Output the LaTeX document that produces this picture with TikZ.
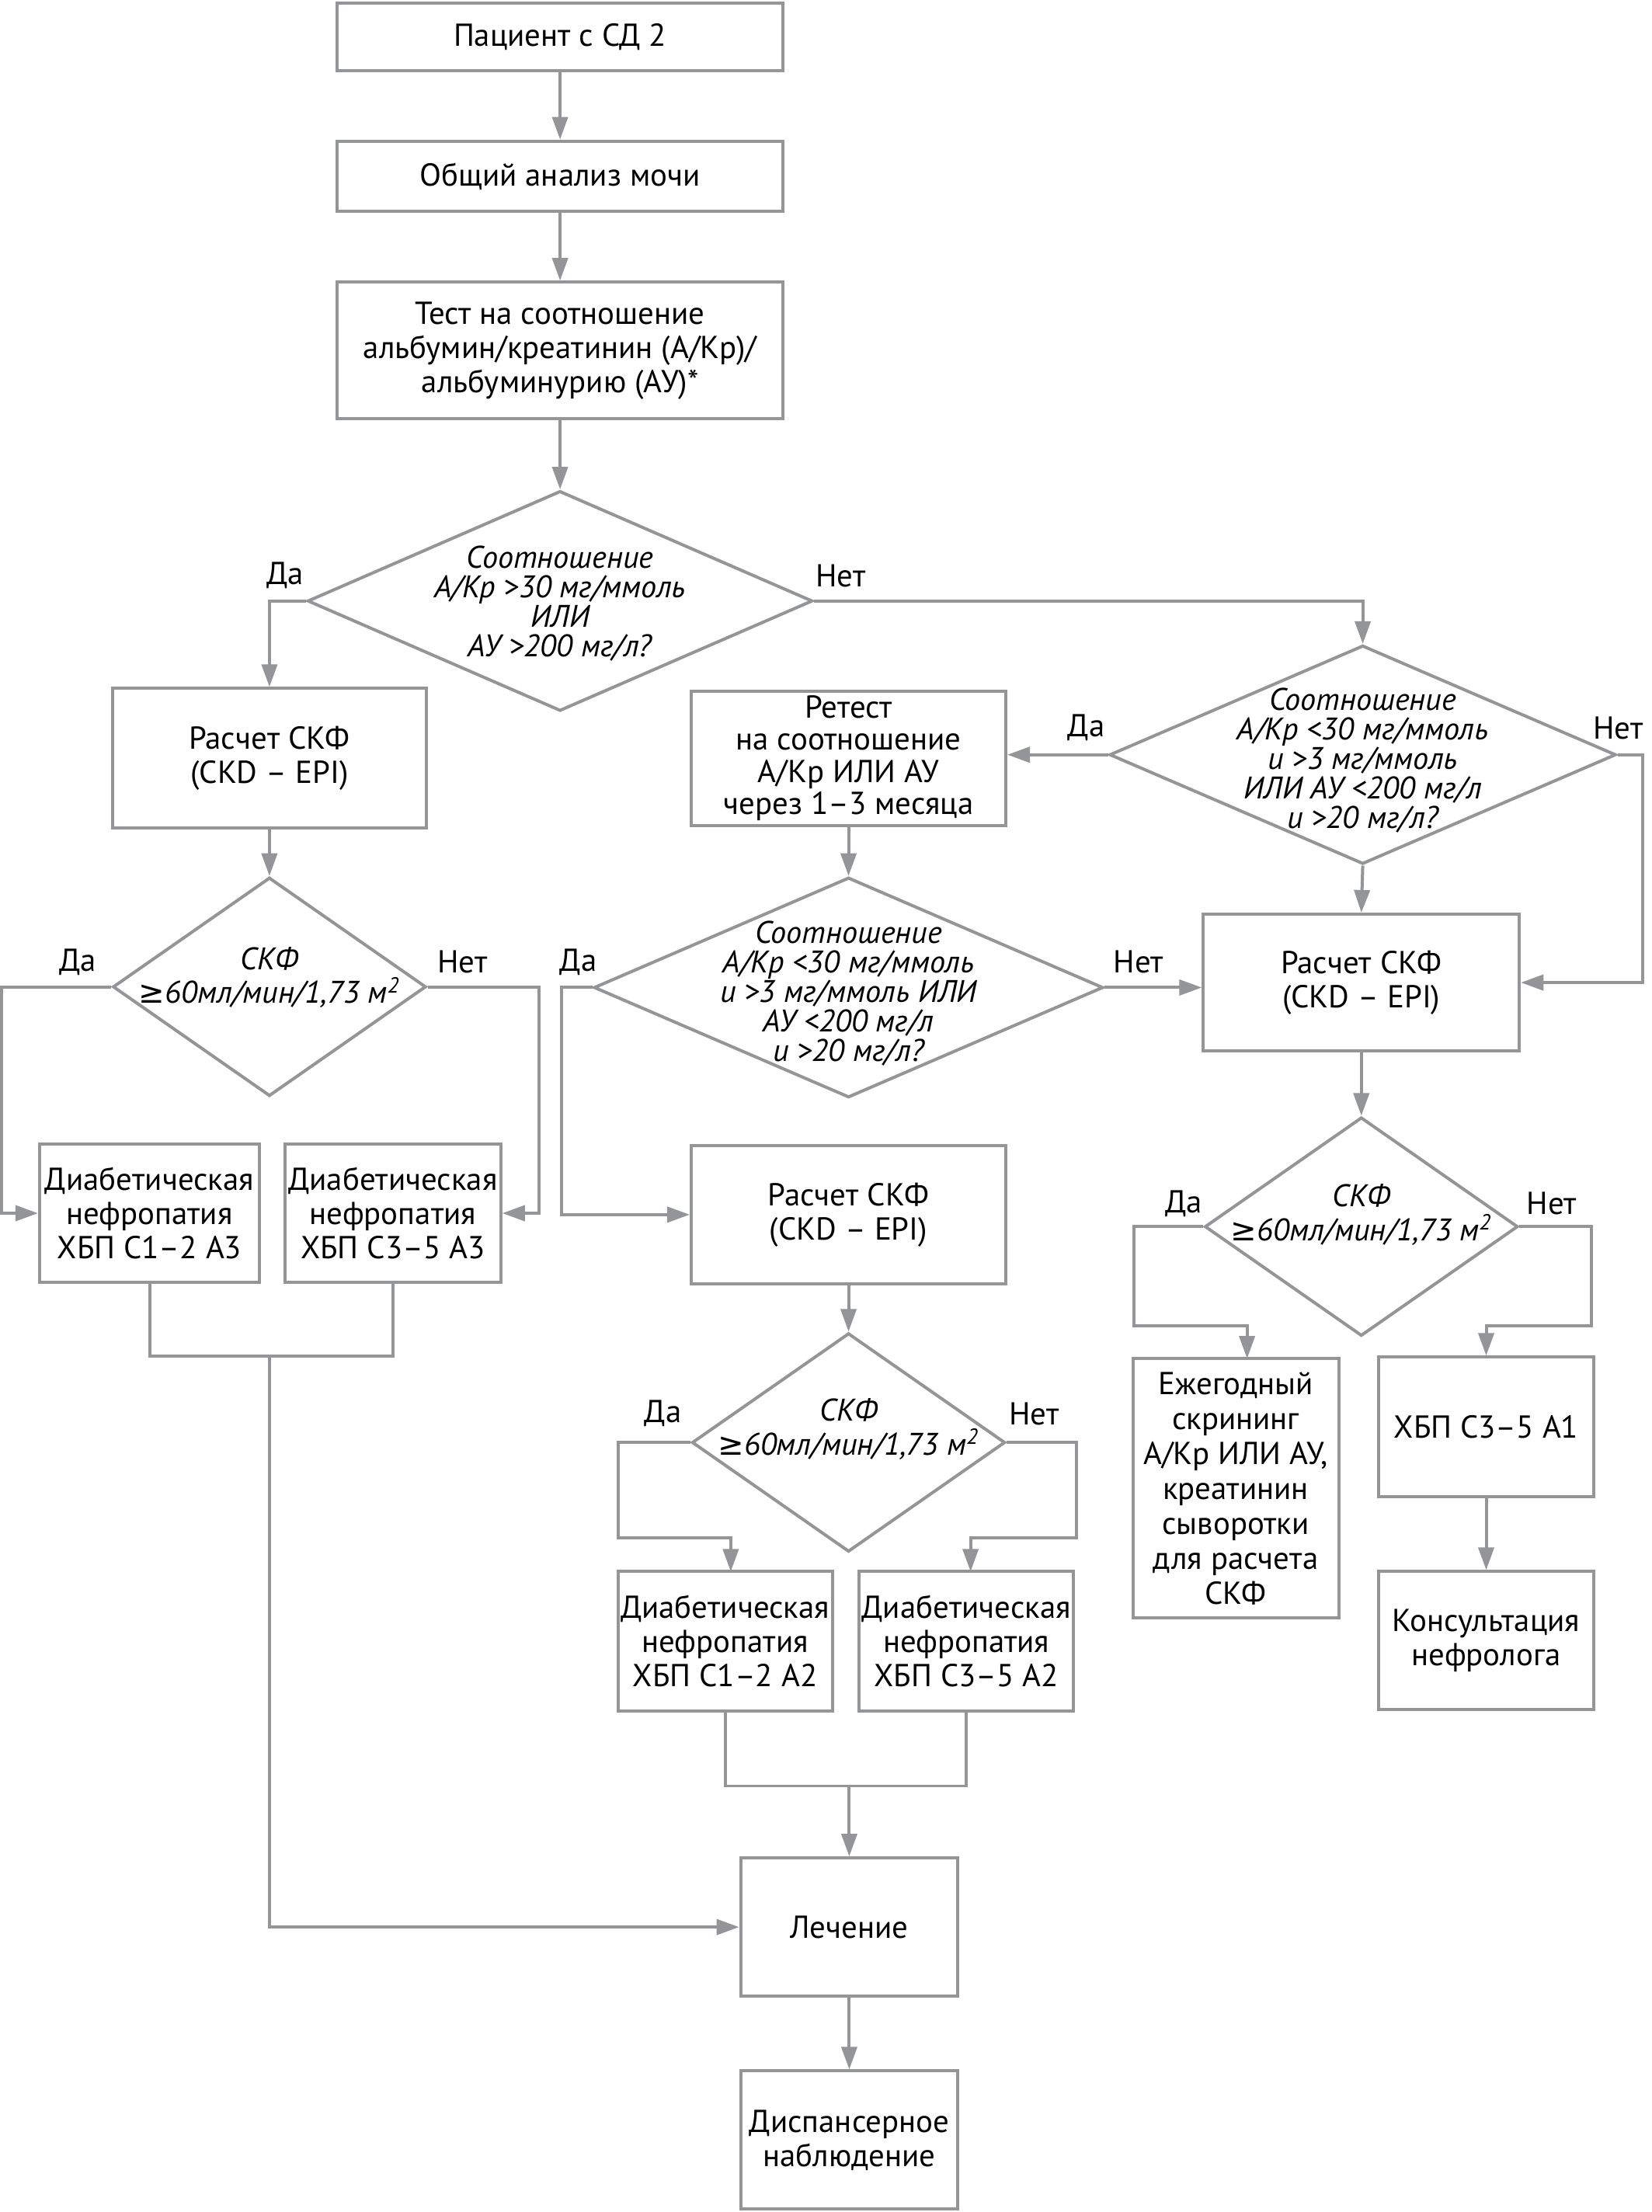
\documentclass[tikz,border=0pt]{standalone}
\usepackage{fontspec}
\setmainfont{PT Sans}
\newfontfamily\symf{DejaVu Sans}
\usetikzlibrary{arrows.meta,shapes.geometric}
\definecolor{lc}{HTML}{939598}
\tikzset{
  box/.style={draw=lc, line width=1.25pt, rectangle, inner sep=0pt, align=center,
              font=\fontsize{12.8}{13.8}\selectfont},
  dia/.style={draw=lc, line width=1.25pt, diamond, inner sep=0pt},
  dtext/.style={align=center, inner sep=0pt, font=\fontsize{12.6}{11.9}\selectfont\itshape},
  gtext/.style={align=center, inner sep=0pt, font=\fontsize{12.6}{13.6}\selectfont\itshape},
  lab/.style={inner sep=0pt, font=\fontsize{12.8}{13.8}\selectfont},
  conn/.style={draw=lc, line width=1.25pt},
  arr/.style={conn, -{Triangle[length=3.2mm,width=2.2mm]}},
}
\begin{document}
\begin{tikzpicture}[x=0.2mm,y=-0.2mm]
\useasboundingbox (0,0) rectangle (1171,1568);
\fill[white] (0,0) rectangle (1171,1568);

% top column
\node[box, minimum width=63.2mm, minimum height=9.6mm] (b1) at (397,26) {Пациент с СД 2};
\node[box, minimum width=63.2mm, minimum height=10mm] (b2) at (397,125) {Общий анализ мочи};
\node[box, minimum width=63.2mm, minimum height=19.4mm] (b3) at (397,248.5) {Тест на соотношение\\альбумин/креатинин (А/Кр)/\\альбуминурию (АУ)*};
\node[dia, minimum width=71.6mm, minimum height=31.2mm] (d1) at (397,426) {};
\node[dtext] (t1) at (397,428) {Соотношение\\А/Кр >30 мг/ммоль\\ИЛИ\\АУ >200 мг/л?};
\node[lab] (l1y) at (202,408) {Да};
\node[lab] (l1n) at (596,408) {Нет};

% left branch
\node[box, minimum width=44.4mm, minimum height=19.8mm] (b4) at (191,537.5) {Расчет СКФ\\(CKD – EPI)};
\node[dia, minimum width=44.4mm, minimum height=31mm] (d3) at (191,699.5) {};
\node[gtext] (t3) at (191,693) {СКФ\\{\symf\itshape ≥}60мл/мин/1,73 м\textsuperscript{2}};
\node[lab] (l3y) at (55,682) {Да};
\node[lab] (l3n) at (328,682) {Нет};
\node[box, minimum width=31.2mm, minimum height=19.6mm] (b5) at (106,860) {Диабетическая\\нефропатия\\ХБП С1–2 А3};
\node[box, minimum width=30.6mm, minimum height=19.6mm] (b6) at (278.5,860) {Диабетическая\\нефропатия\\ХБП С3–5 А3};

% right top diamond
\node[dia, minimum width=71.8mm, minimum height=31mm] (d2) at (966,535) {};
\node[dtext] (t2) at (966,539) {Соотношение\\А/Кр <30 мг/ммоль\\и >3 мг/ммоль\\ИЛИ АУ <200 мг/л\\и >20 мг/л?};
\node[lab] (l2y) at (770,516) {Да};
\node[lab] (l2n) at (1147,516) {Нет};

% retest
\node[box, minimum width=44.6mm, minimum height=19mm, font=\fontsize{12.8}{13}\selectfont] (rt) at (601.5,537.5) {Ретест\\на соотношение\\А/Кр ИЛИ АУ\\через 1–3 месяца};
\node[dia, minimum width=72.2mm, minimum height=31.2mm] (d4) at (601.5,700) {};
\node[dtext] (t4) at (601.5,704) {Соотношение\\А/Кр <30 мг/ммоль\\и >3 мг/ммоль ИЛИ\\АУ <200 мг/л\\и >20 мг/л?};
\node[lab] (l4y) at (410,682) {Да};
\node[lab] (l4n) at (807,682) {Нет};

% right column
\node[box, minimum width=44.8mm, minimum height=19.4mm] (rs) at (965,696.5) {Расчет СКФ\\(CKD – EPI)};
\node[dia, minimum width=44.4mm, minimum height=31mm] (d5) at (965,869.5) {};
\node[gtext] (t5) at (965,861) {СКФ\\{\symf\itshape ≥}60мл/мин/1,73 м\textsuperscript{2}};
\node[lab] (l5y) at (839,853) {Да};
\node[lab] (l5n) at (1100,853) {Нет};
\node[box, minimum width=29.2mm, minimum height=36.8mm, font=\fontsize{12.8}{14.1}\selectfont] (ez) at (876,1055) {Ежегодный\\скрининг\\А/Кр ИЛИ АУ,\\креатинин\\сыворотки\\для расчета\\СКФ};
\node[box, minimum width=30.6mm, minimum height=19.8mm] (a1) at (1053.5,1011.5) {ХБП С3–5 А1};
\node[box, minimum width=30.6mm, minimum height=19.6mm] (kons) at (1053.5,1163) {Консультация\\нефролога};

% middle column
\node[box, minimum width=44.6mm, minimum height=19.6mm] (ms) at (601.5,861) {Расчет СКФ\\(CKD – EPI)};
\node[dia, minimum width=44.4mm, minimum height=31mm] (d6) at (601.5,1022.5) {};
\node[gtext] (t6) at (601.5,1013) {СКФ\\{\symf\itshape ≥}60мл/мин/1,73 м\textsuperscript{2}};
\node[lab] (l6y) at (470,1002) {Да};
\node[lab] (l6n) at (733,1002) {Нет};
\node[box, minimum width=30.4mm, minimum height=19.8mm] (b7) at (514,1163.5) {Диабетическая\\нефропатия\\ХБП С1–2 А2};
\node[box, minimum width=30.4mm, minimum height=19.8mm] (b8) at (685,1163.5) {Диабетическая\\нефропатия\\ХБП С3–5 А2};

% bottom
\node[box, minimum width=30.8mm, minimum height=19.6mm] (lech) at (602,1366) {Лечение};
\node[box, minimum width=30.8mm, minimum height=19.6mm] (disp) at (602,1517) {Диспансерное\\наблюдение};

% coordinates
\coordinate (m1) at (191,961);
\coordinate (m2) at (602,1266);
\coordinate (e1) at (804,940);
\coordinate (ezin) at (884,963);
\coordinate (f1) at (1128,940);
\coordinate (g1) at (438,1090);
\coordinate (g2) at (763,1090);
\coordinate (b7in) at (518,1114);
\coordinate (b8in) at (688,1114);

% connectors
\draw[arr] (b1.south) -- (b2.north);
\draw[arr] (b2.south) -- (b3.north);
\draw[arr] (b3.south) -- (d1.north);
\draw[arr] (d1.west) -| (b4.north);
\draw[arr] (d1.east) -| (d2.north);
\draw[arr] (b4.south) -- (d3.north);
\draw[arr] (d3.west) -- ++(-78,0) |- (b5.west);
\draw[arr] (d3.east) -- ++(79,0) |- (b6.east);
\draw[conn] (b5.south) |- (m1) -| (b6.south);
\draw[arr] (m1) |- (lech.west);
\draw[arr] (d2.west) -- (d2.west -| rt.east);
\draw[arr] (d2.east) -- ++(18,0) |- (rs.east);
\draw[arr] (d2.south) -- (rs.north);
\draw[arr] (rt.south) -- (d4.north);
\draw[arr] (d4.west) -- ++(-22,0) |- (ms.west);
\draw[arr] (d4.east) -- (d4.east -| rs.west);
\draw[arr] (rs.south) -- (d5.north);
\draw[arr] (d5.west) -| (e1) -| (ezin);
\draw[arr] (d5.east) -| (f1) -| (a1.north);
\draw[arr] (a1.south) -- (kons.north);
\draw[arr] (ms.south) -- (d6.north);
\draw[arr] (d6.west) -| (g1) -| (b7in);
\draw[arr] (d6.east) -| (g2) -| (b8in);
\draw[conn] (b7.south) |- (m2) -| (b8.south);
\draw[arr] (m2) -- (lech.north);
\draw[arr] (lech.south) -- (disp.north);
\end{tikzpicture}
\end{document}
